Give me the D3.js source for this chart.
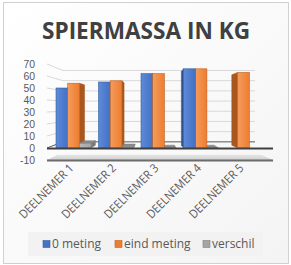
<!DOCTYPE html>
<html>
<head>
<meta charset="utf-8">
<script src="https://cdn.jsdelivr.net/npm/d3@7"></script>
<style>
  body { margin: 0; background: #fff; }
  svg { display: block; font-family: "Open Sans", "Noto Sans", sans-serif; }
</style>
</head>
<body>
<svg id="chart" width="291" height="265"></svg>
<script>
// data
var categories = ['DEELNEMER 1', 'DEELNEMER 2', 'DEELNEMER 3', 'DEELNEMER 4', 'DEELNEMER 5'];
var seriesNames = ['0 meting', 'eind meting', 'verschil'];
var nulMeting = [50, 55, 62, 66, null];
var eindMeting = [54, 56, 62, 66, 63];
var verschil = [4, 1, 0, 0, null];
var yTicks = [-10, 0, 10, 20, 30, 40, 50, 60, 70];

var colors = {
  '0 meting':    {front: '#4472c4', light: '#5d8ad9', side: '#2f528f', top: '#8faadc', edge: '#36609f'},
  'eind meting': {front: '#ed7d31', light: '#f59c5c', side: '#a9571f', top: '#f4b183', edge: '#c0631f'},
  'verschil':    {front: '#a5a5a5', light: '#b8b8b8', side: '#7a7a7a', top: '#8a8a8a', edge: '#7f7f7f'}
};

var svg = d3.select('#chart');

// perspective centre and depths (front plane = 1)
var cx = 153, cy = 107;
var sBar = 0.93, sWall = 0.85, sFloor = 0.9;
var frontLeft = 47, frontRight = 273;

function proj(X, Y, s) {
  return [cx + (X - cx) * s, cy + (Y - cy) * s];
}
function poly(pts) {
  return 'M' + pts.map(function (p) { return p[0].toFixed(2) + ',' + p[1].toFixed(2); }).join('L') + 'Z';
}

var y = d3.scaleLinear().domain([-10, 70]).range([160, 64]);
var x0 = d3.scaleBand().domain(categories).range([51, 263.5]);
var x1 = d3.scaleBand().domain(seriesNames).range([5, 40.1]);

// background + border
var defs = svg.append('defs');
var bg = defs.append('linearGradient').attr('id', 'bg').attr('x1', 0).attr('y1', 0).attr('x2', 1).attr('y2', 1);
bg.append('stop').attr('offset', '0%').attr('stop-color', '#ffffff');
bg.append('stop').attr('offset', '100%').attr('stop-color', '#f4f4f4');
svg.append('rect').attr('x', 3.5).attr('y', 2.5).attr('width', 285).attr('height', 261)
  .attr('fill', 'url(#bg)').attr('stroke', '#d0d0d0');

seriesNames.forEach(function (n, i) {
  var g = defs.append('linearGradient').attr('id', 'g' + i);
  g.append('stop').attr('offset', '0%').attr('stop-color', colors[n].light);
  g.append('stop').attr('offset', '100%').attr('stop-color', colors[n].front);
});

// gridlines: left side wall + back wall
var grid = svg.append('g');
yTicks.filter(function (v) { return v > 0; }).forEach(function (v) {
  var a = [frontLeft, y(v)], b = proj(frontLeft, y(v), sWall), c = proj(frontRight, y(v), sWall);
  grid.append('path').attr('d', 'M' + a + 'L' + b + 'L' + c)
    .attr('fill', 'none').attr('stroke', '#d9d9d9').attr('stroke-width', 1);
});

// floor at -10
var fl = [[frontLeft, y(-10)], [frontRight, y(-10)], proj(frontRight, y(-10), sFloor), proj(frontLeft, y(-10), sFloor)];
var fg = defs.append('linearGradient').attr('id', 'fl').attr('x1', 0).attr('y1', 0).attr('x2', 0).attr('y2', 1);
fg.append('stop').attr('offset', '0%').attr('stop-color', '#e6e6e6');
fg.append('stop').attr('offset', '100%').attr('stop-color', '#cfcfcf');
svg.append('path').attr('d', poly(fl)).attr('fill', 'url(#fl)');
svg.append('line').attr('x1', frontLeft).attr('x2', frontRight).attr('y1', y(-10) + 0.5).attr('y2', y(-10) + 0.5)
  .attr('stroke', '#6b6b6b').attr('stroke-width', 2);

// zero plane lines (back + side)
var zb = proj(frontLeft, y(0), sWall), zc = proj(frontRight, y(0), sWall);
svg.append('path').attr('d', 'M' + [frontLeft, y(0)] + 'L' + zb + 'L' + zc)
  .attr('fill', 'none').attr('stroke', '#595959').attr('stroke-width', 1);

// bars
var bars = [];
categories.forEach(function (c, i) {
  [nulMeting, eindMeting, verschil].forEach(function (arr, j) {
    if (arr[i] === null) return;
    var X0 = x0(c) + x1(seriesNames[j]);
    bars.push({cat: c, series: seriesNames[j], si: j, value: arr[i], X0: X0, X1: X0 + x1.bandwidth()});
  });
});
// paint farthest from the centre first
bars.sort(function (a, b) {
  return Math.abs((b.X0 + b.X1) / 2 - cx) - Math.abs((a.X0 + a.X1) / 2 - cx);
});

var barG = svg.append('g').selectAll('g').data(bars).join('g');
barG.each(function (d) {
  var g = d3.select(this), col = colors[d.series];
  var yt = y(d.value), yb = y(0);
  if (d.X1 < cx) {
    g.append('path').attr('d', poly([[d.X1, yt], proj(d.X1, yt, sBar), proj(d.X1, yb, sBar), [d.X1, yb]]))
      .attr('fill', col.side).attr('stroke', col.side).attr('stroke-width', 0.5);
  } else if (d.X0 > cx) {
    g.append('path').attr('d', poly([[d.X0, yt], proj(d.X0, yt, sBar), proj(d.X0, yb, sBar), [d.X0, yb]]))
      .attr('fill', col.side).attr('stroke', col.side).attr('stroke-width', 0.5);
  }
  if (yt > cy) {
    g.append('path').attr('d', poly([[d.X0, yt], [d.X1, yt], proj(d.X1, yt, sBar), proj(d.X0, yt, sBar)]))
      .attr('fill', col.top).attr('stroke', col.edge).attr('stroke-width', 0.5);
  }
  if (yb - yt > 0) {
    g.append('rect').attr('x', d.X0).attr('y', yt).attr('width', d.X1 - d.X0).attr('height', yb - yt)
      .attr('fill', 'url(#g' + d.si + ')').attr('stroke', col.edge).attr('stroke-width', 0.6);
  }
});

// front axis line at 0
svg.append('line').attr('x1', frontLeft).attr('x2', frontRight).attr('y1', y(0) + 0.5).attr('y2', y(0) + 0.5)
  .attr('stroke', '#404040').attr('stroke-width', 2);

// y axis labels (compact font so the 12px steps do not collide)
svg.append('g').selectAll('text').data(yTicks).join('text')
  .attr('x', 35).attr('y', function (d) { return y(d); }).attr('dy', '0.36em')
  .attr('text-anchor', 'end').attr('font-family', '"Liberation Sans", Arial, sans-serif')
  .attr('font-size', 10.4).attr('fill', '#595959')
  .text(function (d) { return d; });

// x axis labels
svg.append('g').selectAll('text').data(categories).join('text')
  .attr('transform', function (d) {
    return 'translate(' + (x0(d) + x0.bandwidth() / 2 + 2) + ',' + 169 + ') rotate(-45)';
  })
  .attr('text-anchor', 'end').attr('font-size', 12).attr('fill', '#595959')
  .attr('textLength', 71).attr('lengthAdjust', 'spacingAndGlyphs')
  .text(function (d) { return d; });

// legend
svg.append('rect').attr('x', 28).attr('y', 232).attr('width', 235).attr('height', 24).attr('fill', '#f2f2f2');
var legX = [43, 115, 203];
var leg = svg.append('g').selectAll('g').data(seriesNames).join('g')
  .attr('transform', function (d, i) { return 'translate(' + legX[i] + ',240.5)'; });
leg.append('rect').attr('width', 7).attr('height', 7)
  .attr('fill', function (d) { return colors[d].front; })
  .attr('stroke', function (d) { return colors[d].edge; }).attr('stroke-width', 0.6);
leg.append('text').attr('x', 9).attr('y', 7.5).attr('font-size', 12).attr('fill', '#595959')
  .text(function (d) { return d; });

// title
svg.append('text').attr('x', 146).attr('y', 39).attr('text-anchor', 'middle')
  .attr('font-size', 23).attr('font-weight', 'bold').attr('fill', '#404040')
  .attr('textLength', 208).attr('lengthAdjust', 'spacingAndGlyphs')
  .text('SPIERMASSA IN KG');
</script>
</body>
</html>
